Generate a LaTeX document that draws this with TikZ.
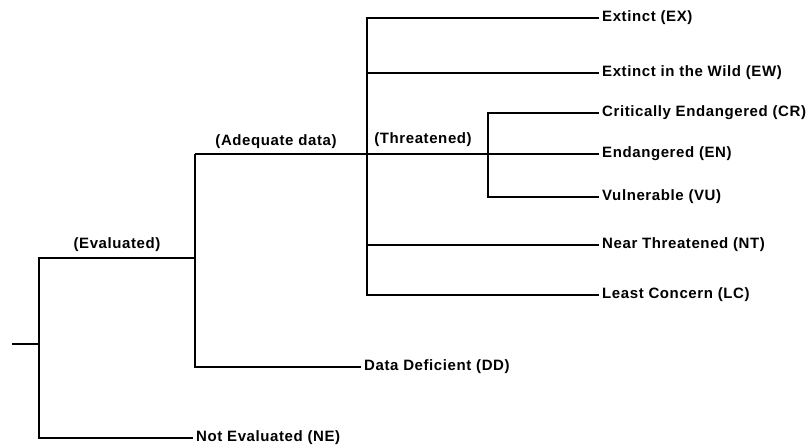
\documentclass[tikz,border=0pt]{standalone}
\usepackage{fontspec}
\setmainfont{Liberation Sans}[LetterSpace=4]
\begin{document}
\begin{tikzpicture}[x=1pt,y=-1pt,
  line width=1.4pt,
  leaf/.style={anchor=west,inner sep=2.5pt,font=\fontsize{15}{17}\selectfont\bfseries},
  branch/.style={inner sep=0pt,font=\fontsize{15}{17}\selectfont\bfseries}]
\useasboundingbox (0,0) rectangle (811,447);
% leaves
\node[leaf] (ex) at (599,18) {Extinct (EX)};
\node[leaf] (ew) at (599,73) {Extinct in the Wild (EW)};
\node[leaf] (cr) at (599,113) {Critically Endangered (CR)};
\node[leaf] (en) at (599,154) {Endangered (EN)};
\node[leaf] (vu) at (599,197) {Vulnerable (VU)};
\node[leaf] (nt) at (599,245) {Near Threatened (NT)};
\node[leaf] (lc) at (599,295) {Least Concern (LC)};
\node[leaf] (dd) at (361,367) {Data Deficient (DD)};
\node[leaf] (ne) at (193,438) {Not Evaluated (NE)};
% branch labels
\node[branch] (lev) at (117,245) {(Evaluated)};
\node[branch] (lad) at (276,142) {(Adequate data)};
\node[branch] (lth) at (423,140) {(Threatened)};
% junctions
\coordinate (r0) at (12,344);
\coordinate (r) at (39,344);
\coordinate (ev) at (39,258);
\coordinate (adj) at (195,258);
\coordinate (adt) at (195,154);
\coordinate (tv) at (367,295);
\coordinate (sv) at (488,197);
% connectors
\draw (r0) -- (r);
\draw (adj) -- (ev) |- (ne.west);
\draw (adt) |- (dd.west);
\draw (adt) -- (en.west);
\draw (ex.west) -| (tv) -- (lc.west);
\draw (ew.west) -- (ew.west -| tv);
\draw (nt.west) -- (nt.west -| tv);
\draw (cr.west) -| (sv) -- (vu.west);
\end{tikzpicture}
\end{document}
